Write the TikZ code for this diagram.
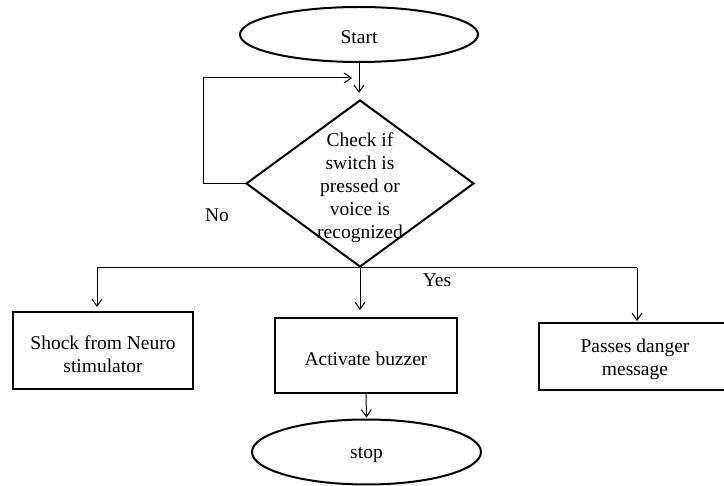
\documentclass[tikz,border=0pt]{standalone}
\usepackage{fontspec}
\setmainfont{Liberation Serif}
\usetikzlibrary{shapes.geometric,arrows.meta}
\begin{document}
\begin{tikzpicture}[x=1pt,y=-1pt,
  every node/.style={font=\fontsize{19.5}{23}\selectfont, inner sep=0pt},
  txt/.style={align=center},
  term/.style={ellipse, draw, line width=2pt},
  procbox/.style={rectangle, draw, line width=2pt},
  decbox/.style={diamond, draw, line width=2pt, aspect=1.365, minimum width=228pt, minimum height=167pt},
  conn/.style={line width=1pt},
  arr/.style={conn, -{Straight Barb[length=7pt,width=10pt]}}]
\useasboundingbox (0,0) rectangle (724,486);
\node[term, minimum width=238pt, minimum height=55pt] (start) at (359,34.5) {};
\node[txt] (starttext) at (359,37.5) {Start};
\node[decbox] (dec) at (360,183.5) {};
\node[txt] (dectext) at (360,188) {Check if\\switch is\\pressed or\\voice is\\recognized};
\node[procbox, minimum width=180pt, minimum height=77pt] (left) at (103,350.5) {};
\node[txt] (lefttext) at (103,354) {Shock from Neuro\\stimulator};
\node[procbox, minimum width=182pt, minimum height=75pt] (mid) at (366,355.5) {};
\node[txt] (midtext) at (366,358.5) {Activate buzzer};
\node[procbox, minimum width=192pt, minimum height=67pt] (right) at (635,356.5) {};
\node[txt] (righttext) at (635,359.5) {Passes danger\\message};
\node[term, minimum width=229pt, minimum height=65pt] (stop) at (366.5,452) {};
\node[txt] (stoptext) at (366.5,455.5) {stop};
\node (no) at (217,215) {No};
\node (yes) at (437,280) {Yes};
\coordinate (lt) at (203,78);
\coordinate (lend) at (352,78);
\coordinate (bl) at (97,268);
\coordinate (br) at (637,268);
\draw[arr, shorten >=6pt] (start.south) -- (start.south |- dec.north);
\draw[arr] (dec.west) -| (lt) -- (lend);
\draw[conn] (bl) -- (br);
\draw[arr, shorten >=4pt] (bl) -- (bl |- left.north);
\draw[arr, shorten >=7pt] (dec.south) -- (dec.south |- mid.north);
\draw[arr, shorten >=1pt] (br) -- (br |- right.north);
\draw[arr, shorten >=1pt] (mid.south) -- (stop.north);
\end{tikzpicture}
\end{document}
